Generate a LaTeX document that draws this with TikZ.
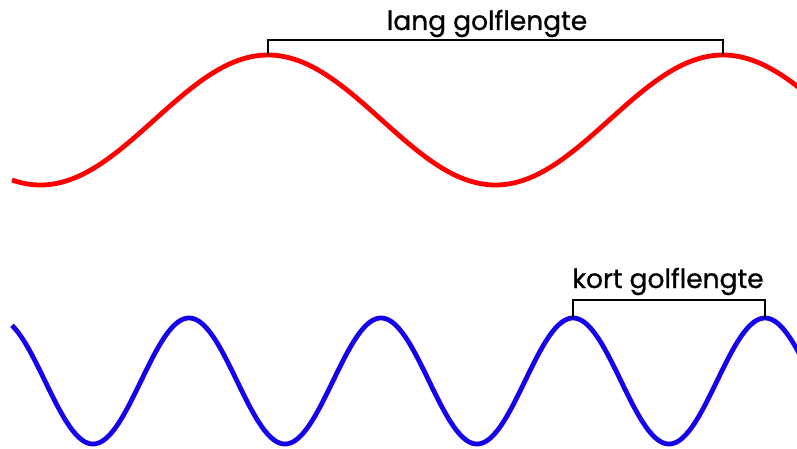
\documentclass[tikz,border=0pt]{standalone}
\usepackage{fontspec}
\setmainfont{Poppins}
\newfontfamily\lblfont{Poppins}[FakeBold=0.9]
\definecolor{wblue}{RGB}{20,0,235}
\begin{document}
\begin{tikzpicture}[x=1pt,y=-1pt,
  wave/.style={line width=4.8pt,line join=round},
  bracket/.style={draw=black,line width=1.6pt},
  lbl/.style={font=\lblfont\fontsize{26.5}{30}\selectfont,inner sep=0pt,anchor=base}]
\useasboundingbox (0,0) rectangle (797,449);
\begin{scope}
\clip (0,0) rectangle (797,449);
\draw[wave,red] plot[domain=12:800,samples=300,smooth] (\x,{120-65*cos(0.7912088*(\x-268))});
\draw[wave,wblue] plot[domain=12:800,samples=400,smooth] (\x,{381-63*cos(1.875*(\x-189))});
\end{scope}
\coordinate (p1) at (268,55);
\coordinate (p2) at (723,55);
\coordinate (q1) at (573,318);
\coordinate (q2) at (765,318);
\draw[bracket] (p1) -- (268,40) -- (723,40) -- (p2);
\draw[bracket] (q1) -- (573,300) -- (765,300) -- (q2);
\node[lbl] (lang) at (487,30) {lang golflengte};
\node[lbl] (kort) at (668,288) {kort golflengte};
\end{tikzpicture}
\end{document}
